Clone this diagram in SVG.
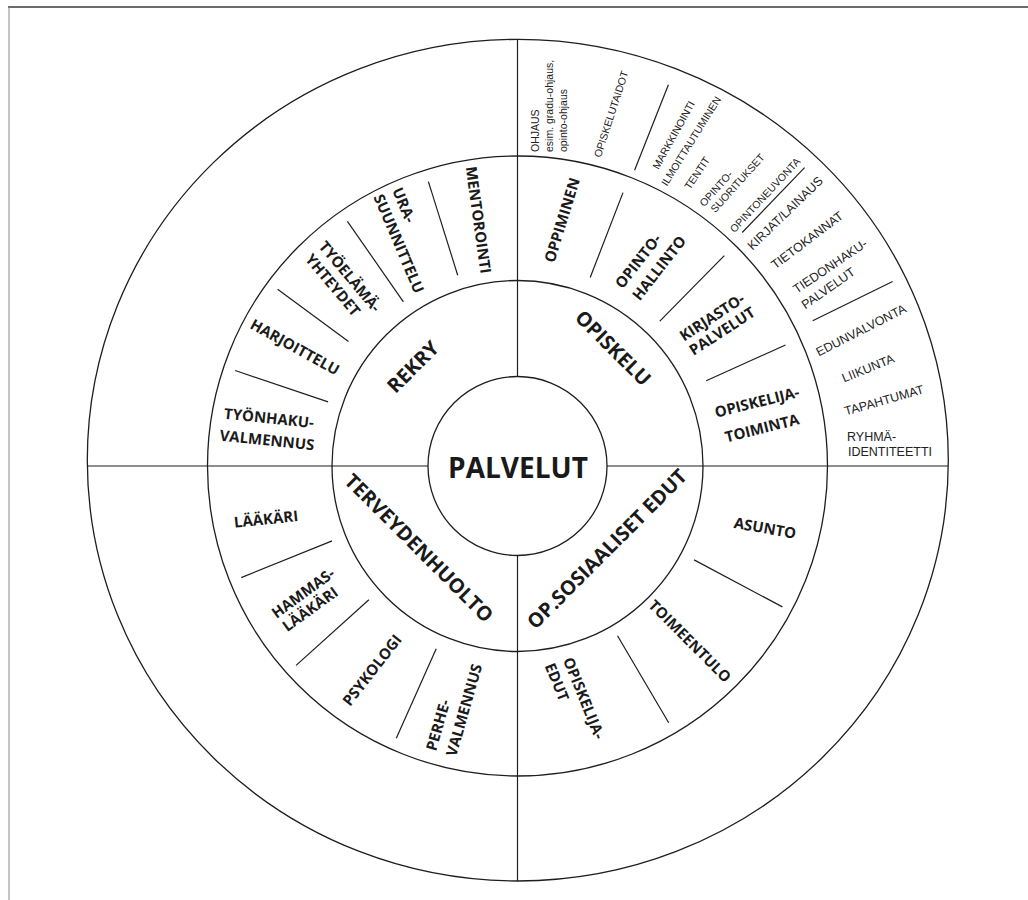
<svg xmlns="http://www.w3.org/2000/svg" width="1028" height="900" viewBox="0 0 1028 900">
<style>
.ring{fill:none;stroke:#1e1e1e;stroke-width:1.3}
.ln{stroke:#1e1e1e;stroke-width:1.2;fill:none}
.b{font-family:"Open Sans","Liberation Sans",sans-serif;font-weight:700;font-size:15px;fill:#1a1a1a;text-anchor:middle}
.c{font-family:"Open Sans","Liberation Sans",sans-serif;font-weight:700;font-size:20px;fill:#1a1a1a;text-anchor:middle}
.s{font-family:"Liberation Sans",Arial,sans-serif;font-size:10.5px;fill:#222;text-anchor:middle}
.m{font-family:"Liberation Sans",Arial,sans-serif;font-size:12.5px;fill:#222;text-anchor:middle}
</style>
<rect width="1028" height="900" fill="#fff"/>
<g id="frame">
<line x1="8" y1="7" x2="1028" y2="7" stroke="#3a3a3a" stroke-width="1.5"/>
<line x1="9" y1="7" x2="9" y2="900" stroke="#8a8a8a" stroke-width="1"/>
</g>
<g id="rings">
<ellipse class="ring" cx="517.8" cy="460.2" rx="430.5" ry="420.8"/>
<circle class="ring" cx="517.5" cy="466" r="310"/>
<circle class="ring" cx="517.5" cy="466" r="185.5"/>
<circle class="ring" cx="517.5" cy="466" r="89.5"/>
</g>
<g id="connectors">
<line class="ln" x1="87.5" y1="466" x2="428" y2="466"/>
<line class="ln" x1="607" y1="466" x2="948" y2="466"/>
<line class="ln" x1="517.5" y1="39.5" x2="517.5" y2="376.5"/>
<line class="ln" x1="517.5" y1="555.5" x2="517.5" y2="881"/>
<line class="ln" x1="457.7" y1="275.2" x2="428.4" y2="181.6"/>
<line class="ln" x1="403.4" y1="301.8" x2="347.4" y2="221.3"/>
<line class="ln" x1="348.5" y1="341.4" x2="277.6" y2="289.2"/>
<line class="ln" x1="328.1" y1="401.9" x2="235.2" y2="370.5"/>
<line class="ln" x1="332.1" y1="540.9" x2="241.2" y2="577.6"/>
<line class="ln" x1="368.9" y1="599.8" x2="296.1" y2="665.4"/>
<line class="ln" x1="436.2" y1="648.7" x2="396.3" y2="738.2"/>
<line class="ln" x1="694.1" y1="559.9" x2="782.4" y2="606.9"/>
<line class="ln" x1="617.5" y1="635.7" x2="668.7" y2="722.8"/>
<line class="ln" x1="590.2" y1="277.5" x2="623" y2="192.6"/>
<line class="ln" x1="659.8" y1="321.2" x2="724.3" y2="255.6"/>
<line class="ln" x1="706.2" y1="380.8" x2="785.5" y2="345"/>
<line class="ln" x1="634.6" y1="170.3" x2="668.4" y2="84.8"/>
<line class="ln" x1="742.2" y1="232.5" x2="804.6" y2="167.7"/>
<line class="ln" x1="812.7" y1="320.7" x2="892.6" y2="281.5"/>
</g>
<g id="node-palvelut"><text x="518" y="478" style="font-family:'Open Sans','Liberation Sans',sans-serif;font-weight:700;font-size:28px;fill:#1a1a1a;text-anchor:middle">PALVELUT</text></g>
<g id="node-rekry"><text class="c" transform="translate(413,367) rotate(-45)" y="7">REKRY</text></g>
<g id="node-opiskelu"><text class="c" transform="translate(613,348) rotate(45)" y="7">OPISKELU</text></g>
<g id="node-terveydenhuolto"><text class="c" transform="translate(419,548) rotate(45)" y="7">TERVEYDENHUOLTO</text></g>
<g id="node-opsosiaaliset"><text class="c" transform="translate(607,549) rotate(-45)" y="7">OP.SOSIAALISET EDUT</text></g>
<g id="node-mentorointi"><text class="b" transform="translate(478.5,220) rotate(82)" y="5.4">MENTOROINTI</text></g>
<g id="node-urasuunnittelu"><text class="b" transform="translate(404,205) rotate(67)" y="5.4">URA-</text><text class="b" transform="translate(399,243.5) rotate(67)" y="5.4">SUUNNITTELU</text></g>
<g id="node-tyoelamayhteydet"><text class="b" transform="translate(350,276.5) rotate(50)" y="5.4">TYÖELÄMÄ-</text><text class="b" transform="translate(333,285) rotate(50)" y="5.4">YHTEYDET</text></g>
<g id="node-harjoittelu"><text class="b" transform="translate(295,347) rotate(29)" y="5.4">HARJOITTELU</text></g>
<g id="node-tyonhaku"><text class="b" transform="translate(269,418) rotate(6)" y="5.4">TYÖNHAKU-</text><text class="b" transform="translate(267,440) rotate(6)" y="5.4">VALMENNUS</text></g>
<g id="node-laakari"><text class="b" transform="translate(266,519) rotate(-6)" y="5.4">LÄÄKÄRI</text></g>
<g id="node-hammaslaakari"><text class="b" transform="translate(303,593) rotate(-36)" y="5.4">HAMMAS-</text><text class="b" transform="translate(310,609) rotate(-36)" y="5.4">LÄÄKÄRI</text></g>
<g id="node-psykologi"><text class="b" transform="translate(372,670) rotate(-52)" y="5.4">PSYKOLOGI</text></g>
<g id="node-perhevalmennus"><text class="b" transform="translate(438,725) rotate(-74)" y="5.4">PERHE-</text><text class="b" transform="translate(464,710) rotate(-74)" y="5.4">VALMENNUS</text></g>
<g id="node-asunto"><text class="b" transform="translate(765,528) rotate(10)" y="5.4">ASUNTO</text></g>
<g id="node-toimeentulo"><text class="b" transform="translate(690,641) rotate(45)" y="5.4">TOIMEENTULO</text></g>
<g id="node-opiskelijaedut"><text class="b" transform="translate(584,698) rotate(68)" y="5.4">OPISKELIJA-</text><text class="b" transform="translate(557,682) rotate(68)" y="5.4">EDUT</text></g>
<g id="node-oppiminen"><text class="b" transform="translate(562,220) rotate(-73)" y="5.4">OPPIMINEN</text></g>
<g id="node-opintohallinto"><text class="b" transform="translate(638,261) rotate(-52)" y="5.4">OPINTO-</text><text class="b" transform="translate(659,268) rotate(-52)" y="5.4">HALLINTO</text></g>
<g id="node-kirjastopalvelut"><text class="b" transform="translate(712,317) rotate(-33)" y="5.4">KIRJASTO-</text><text class="b" transform="translate(722,331) rotate(-33)" y="5.4">PALVELUT</text></g>
<g id="node-opiskelijatoiminta"><text class="b" transform="translate(757,402) rotate(-14)" y="5.4">OPISKELIJA-</text><text class="b" transform="translate(762,428) rotate(-14)" y="5.4">TOIMINTA</text></g>
<g id="node-ohjaus"><text class="s" style="text-anchor:start" transform="translate(539,152) rotate(-90)"><tspan x="0" y="0">OHJAUS</tspan><tspan x="0" y="14">esim. gradu-ohjaus,</tspan><tspan x="0" y="28">opinto-ohjaus</tspan></text></g>
<g id="node-opiskelutaidot"><text class="s" transform="translate(611,114) rotate(-72)" y="3.8">OPISKELUTAIDOT</text></g>
<g id="node-markkinointi"><text class="s" transform="translate(673.5,135) rotate(-61)" y="3.8">MARKKINOINTI</text></g>
<g id="node-ilmoittautuminen"><text class="s" transform="translate(691,141) rotate(-58)" y="3.8">ILMOITTAUTUMINEN</text></g>
<g id="node-tentit"><text class="s" transform="translate(697,173) rotate(-56)" y="3.8">TENTIT</text></g>
<g id="node-opintosuoritukset"><text class="s" transform="translate(716,188.5) rotate(-48)" y="3.8">OPINTO-</text><text class="s" transform="translate(737.5,183) rotate(-48)" y="3.8">SUORITUKSET</text></g>
<g id="node-opintoneuvonta"><text class="s" transform="translate(765,195) rotate(-47)" y="3.8">OPINTONEUVONTA</text></g>
<g id="node-kirjat"><text class="m" transform="translate(785,213) rotate(-44)" y="4.5">KIRJAT/LAINAUS</text></g>
<g id="node-tietokannat"><text class="m" transform="translate(807,240) rotate(-37)" y="4.5">TIETOKANNAT</text></g>
<g id="node-tiedonhaku"><text class="m" transform="translate(830,266) rotate(-34)" y="4.5">TIEDONHAKU-</text><text class="m" transform="translate(828,288) rotate(-35)" y="4.5">PALVELUT</text></g>
<g id="node-edunvalvonta"><text class="m" transform="translate(861,330) rotate(-27)" y="4.5">EDUNVALVONTA</text></g>
<g id="node-liikunta"><text class="m" transform="translate(868,368) rotate(-22)" y="4.5">LIIKUNTA</text></g>
<g id="node-tapahtumat"><text class="m" transform="translate(884,400) rotate(-16)" y="4.5">TAPAHTUMAT</text></g>
<g id="node-ryhmaidentiteetti"><text class="m" style="text-anchor:start"><tspan x="847" y="440.5">RYHMÄ-</tspan><tspan x="848" y="456">IDENTITEETTI</tspan></text></g>
</svg>
